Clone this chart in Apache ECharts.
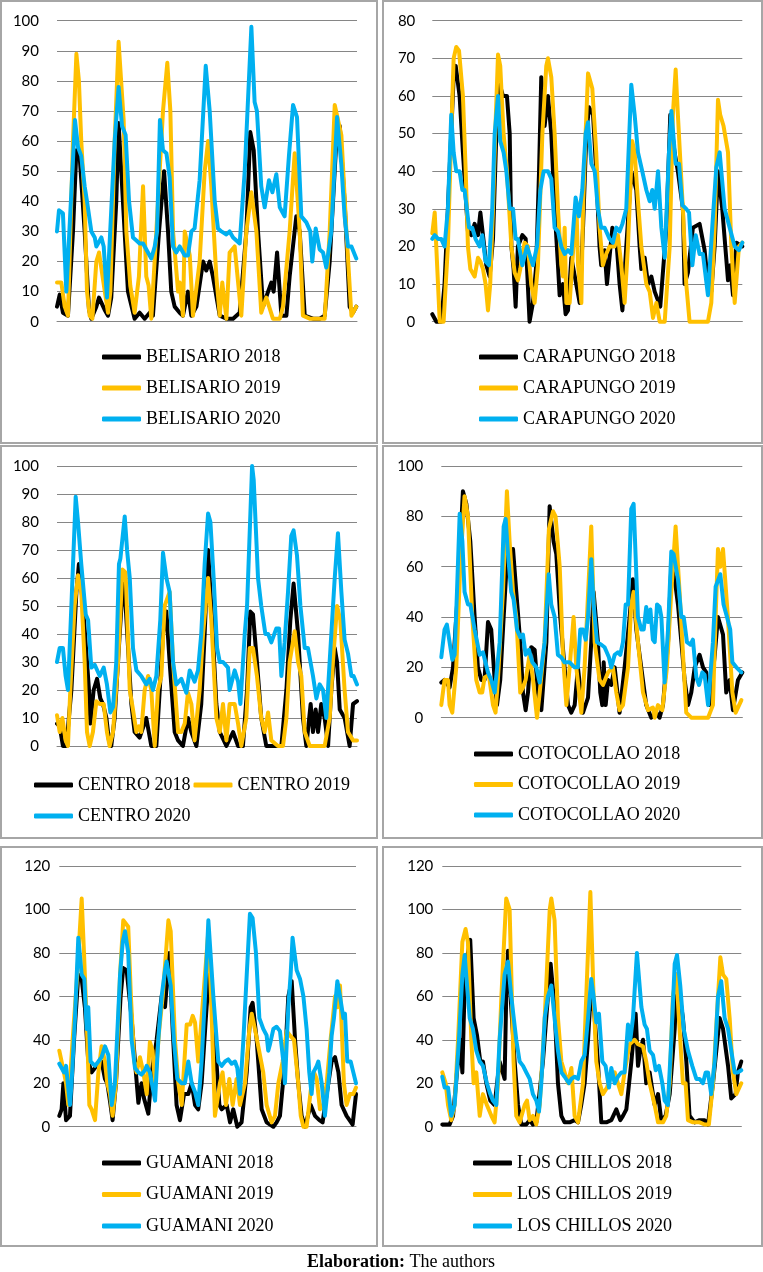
<!DOCTYPE html>
<html><head><meta charset="utf-8">
<script src="https://cdn.jsdelivr.net/npm/echarts@6/dist/echarts.min.js"></script>
<style>html,body{margin:0;padding:0;background:#fff}#c{width:763px;height:1272px}</style>
</head><body><div id="c"></div><script>
// ---- data (x = hour of the week, y = concentration) ----
const stations = ['BELISARIO','CARAPUNGO','CENTRO','COTOCOLLAO','GUAMANI','LOS CHILLOS'];
const years = ['2018','2019','2020'];
const yMax = [100, 80, 100, 100, 120, 120];
const yStep = [10, 10, 10, 20, 20, 20];

const belisario2018 = [[0,5],[1.5,9],[3.3,3],[6.1,2],[8.9,30],[10.8,57],[12.6,55],[15.4,30],[17.8,4],[19.1,1],[21.9,5],[23.4,8],[26.5,4],[28.4,2],[30.2,8],[33,40],[34.3,66],[36.7,40],[39.5,10],[43.2,1],[46,3],[48.8,1],[51.6,3],[53.4,2],[56.8,30],[59.6,50],[61.8,30],[63.6,10],[65.5,5],[68.3,3],[70.1,2],[72.9,10],[74.8,2],[77.6,5],[81.3,20],[83.1,17],[85,20],[86.8,15],[90.6,2],[94.3,1],[98,1],[101.7,3],[105.4,30],[107.6,63],[109.5,57],[111.9,30],[114.7,5],[117.5,10],[119.3,13],[120.6,10],[122.5,23],[124.9,2],[127.7,2],[129.5,15],[133.2,35],[135.1,30],[137.9,2],[142.5,1],[146.2,1],[149,2],[151.8,20],[155.5,60],[157.4,65],[160.1,40],[162.9,5],[164.8,3],[166.6,5]];
const belisario2019 = [[0,13],[2.4,13],[4.3,5],[6.1,2],[8.9,60],[10.8,89],[12.2,80],[13.5,60],[15.4,40],[16.7,10],[18.2,2],[19.7,1],[21.9,20],[23.4,23],[25.6,14],[28.4,3],[29.7,10],[32.1,60],[34.3,93],[37.1,67],[38.6,30],[40.8,12],[43.2,3],[45.6,15],[47.9,45],[49.7,15],[51,12],[52.5,1],[55.3,30],[59,70],[61.4,86],[63.1,70],[64.6,30],[67.4,10],[68.3,13],[70.1,2],[71.1,30],[73.9,22],[75.7,2],[79.4,20],[82.2,50],[84.1,60],[85.9,45],[88.7,15],[90.6,2],[92,13],[94.3,1],[96.1,23],[98.9,25],[101.3,10],[102.6,2],[105.4,30],[108.2,43],[111,30],[113.7,3],[116.5,8],[120.2,1],[124,1],[125.8,5],[129.5,30],[132.3,56],[135.1,30],[136.9,2],[140.7,1],[146.2,1],[149,1],[151.8,30],[154.6,72],[158.3,62],[161.1,30],[163.9,2],[166.6,5]];
const belisario2020 = [[0,30],[1.1,37],[3.3,36],[5.2,10],[10,67],[11.7,58],[13.5,55],[15.4,45],[16.7,40],[19.1,30],[21,28],[21.9,25],[23.8,27],[24.7,28],[26,25],[27.8,8],[28.9,8],[32.1,60],[34.3,78],[36.2,65],[38.2,62],[40.1,40],[42.3,28],[44.2,27],[46,26],[47.9,26],[52.5,21],[54.4,25],[55.7,30],[57.3,67],[59,57],[60.9,56],[62.7,48],[64.6,25],[66.4,23],[68.3,25],[71.1,22],[72.9,22],[74.8,30],[76.6,31],[79.4,47],[82.8,85],[85,70],[87.8,40],[89.6,31],[91.5,30],[94.3,29],[96.1,30],[98,28],[101.7,26],[104.5,50],[108.2,98],[110,73],[111.3,70],[113.7,45],[115.6,38],[118,47],[119.9,43],[122.1,49],[124,38],[126.7,35],[129.1,55],[131.4,72],[133.6,68],[136,35],[138.8,33],[141,30],[142.1,20],[144,31],[146.2,24],[148.1,23],[149.9,18],[152.7,30],[155.9,68],[158.3,52],[160.1,35],[162,25],[163.9,25],[166.6,21]];

const carapungo2018 = [[0,2],[2.2,0],[4.8,0],[6.6,10],[9.3,40],[11.5,65],[12.6,68],[14.7,60],[16.5,45],[19.2,24],[21,23],[22.8,26],[24.6,23],[25.9,29],[27.3,23],[29.1,15],[30.9,12],[32.7,22],[34.5,50],[36.3,63],[38.1,60],[40.2,60],[41.7,50],[42.6,20],[43.8,14],[44.9,4],[46.1,20],[48.5,23],[50.3,22],[52.4,0],[54.2,5],[56,15],[57.5,40],[58.7,65],[60.5,52],[62.3,60],[64.1,50],[65.9,30],[67.7,15],[68.6,7],[70.4,10],[71.8,2],[73.1,3],[74.9,17],[79.4,5],[81.2,25],[83,50],[84.4,57],[86.6,55],[88.3,40],[90.1,20],[91,15],[92.8,19],[94.1,10],[97,25],[99.1,22],[100.9,10],[102.4,3],[104.5,20],[107.2,40],[109.9,35],[111.7,20],[112.6,14],[114.4,17],[116.2,10],[118,12],[119.8,8],[122.8,4],[126.1,25],[128.2,55],[130.5,45],[132.3,40],[135,30],[135.9,10],[137.7,13],[140.4,25],[144,26],[146.7,19],[148.5,10],[150.3,8],[152.1,20],[153.9,40],[156.2,30],[159.3,11],[160.5,15],[162,7],[163.8,21],[167,20]];
const carapungo2019 = [[0,23.5],[1.3,29],[4,0],[6.1,0],[8.4,20],[10.2,50],[11.5,70],[12.9,73],[14.4,72],[16.5,60],[18,40],[19.2,20],[20.5,14],[21.5,14],[22.8,12],[24.6,17],[25.9,16],[27.3,14],[28.7,10],[30,3],[31.2,10],[32.7,30],[33.9,50],[35.4,71],[36.6,68],[38.4,50],[40.2,40],[42.6,20],[44.4,13],[46.1,11],[47.4,14],[49.7,21],[51.5,20],[53.3,10],[55.1,5],[56.9,15],[59.3,50],[61.4,68],[62.3,70],[64.1,65],[65.9,50],[67.7,30],[69.5,15],[70.4,12],[71.3,25],[72.2,5],[74,5],[77.6,32],[78.5,15],[80.3,5],[81.2,30],[82.6,50],[83.9,66],[86.2,62],[88.3,45],[90.1,25],[91.9,15],[93.7,18],[95.5,20],[98.2,20],[100,23],[101.8,15],[103.6,5],[105.4,20],[107.7,48],[109,45],[110.8,32],[112.6,20],[115.3,10],[117.1,8],[118.9,1],[120.7,5],[122.5,0],[125.2,0],[127.9,20],[129.6,55],[131.1,67],[132.3,55],[135,30],[136.8,10],[138.6,0],[142.2,0],[145.8,0],[148.5,0],[150.3,5],[152.1,25],[153.9,59],[155.1,55],[156.9,52],[159.3,45],[161.1,20],[162.9,5],[165.2,20],[167,21]];
const carapungo2020 = [[0,22],[1.3,23],[3.1,22],[4.8,22],[6.6,20],[8.4,30],[10.2,55],[11.5,45],[12.9,40],[14.7,40],[16.2,35],[17.4,35],[19.8,25],[21.5,25],[23.3,22],[25.5,20],[26.9,23],[28.7,16],[30.5,15],[32.3,30],[33.6,50],[35.4,60],[36.6,48],[38.4,45],[39.9,40],[41.7,30],[43.5,30],[44.9,22],[46.1,22],[48.5,15],[51,20],[54.2,15],[56.4,20],[58.2,35],[60,40],[62.3,40],[64.1,38],[65.9,25],[67.7,24],[69.5,20],[71.3,18],[73.1,19],[74.9,18],[77.2,33],[79,28],[80.8,35],[82.6,50],[83.9,53],[85.7,42],[87.5,40],[89.2,30],[91,25],[92.8,25],[95.5,22],[97.3,21],[99.1,25],[100.9,24],[102.4,26],[104.5,30],[107.2,63],[109,55],[110.8,45],[113.1,40],[115.3,35],[117.1,32],[118.5,35],[119.8,30],[121.6,40],[123.4,25],[125.2,17],[127.5,45],[128.8,56],[131.1,42],[132.9,42],[134.7,31],[136.8,30],[138.3,29],[140.1,15],[141.9,23],[144,18],[145.8,18],[148.5,7],[150.8,25],[153,41],[154.8,45],[157.5,30],[160.2,25],[162.9,20],[165.2,19],[167,21]];

const centro2018 = [[0,8],[1.5,7],[3.3,0],[5.2,0],[8,20],[10.8,55],[12.2,65],[14.5,50],[17.8,20],[18.6,8],[20.4,20],[22.3,24],[24.1,17],[25.6,15],[27.5,10],[28.9,2],[30.2,0],[32.1,10],[34.9,40],[36.7,58],[38.2,50],[41.4,15],[43.2,5],[46,3],[49.7,10],[52.5,0],[55.3,0],[57.2,20],[59,40],[60.9,48],[62.7,30],[65.5,5],[67.4,2],[70.1,0],[72.9,10],[74.8,5],[77.6,0],[80.3,15],[82.2,40],[84.1,70],[85.9,50],[88.7,15],[90.6,5],[94.3,0],[98,5],[100.8,0],[103.5,0],[105.8,20],[107.6,48],[109.1,47],[111.3,30],[113.7,10],[116.5,0],[122.1,0],[124.9,0],[127.7,20],[129.9,45],[131.7,58],[134.2,40],[136.9,10],[138.8,0],[141.2,15],[142.5,5],[144,13],[145.3,5],[147.1,15],[149,10],[150.9,0],[152.7,20],[154.6,35],[155.9,30],[157.4,13],[160.1,10],[162.9,0],[164.8,15],[167,16]];
const centro2019 = [[0,11],[1.5,5],[3,10],[4.8,2],[6.1,0],[7.4,20],[9.8,50],[11.7,61],[13.5,55],[15.4,30],[16.7,5],[18.2,0],[20,5],[21.9,16],[23.8,15],[26,15],[27.8,5],[29.3,0],[31.2,5],[34,30],[36.4,63],[38.2,62],[40.5,20],[42.3,13],[44.2,5],[45.6,7],[46.9,5],[48.8,20],[50.7,25],[52.5,20],[54.4,0],[56.2,20],[58.1,25],[59.9,50],[62.7,55],[64.6,30],[67.4,5],[69.2,5],[71.1,8],[72.9,19],[74.8,15],[76.6,2],[79.4,20],[81.3,40],[84.1,60],[85.9,45],[88.7,10],[90.6,5],[92.4,15],[94.3,2],[96.1,15],[98.9,15],[100.8,8],[102.6,0],[105.4,10],[107.3,35],[109.1,35],[111.3,25],[113.7,10],[115.6,5],[117.5,12],[119.3,2],[123,0],[125.8,0],[127.7,10],[129.5,30],[132.3,41],[134.2,30],[136,25],[137.9,5],[140.7,0],[146.2,0],[149,0],[151.8,10],[153.6,30],[155.9,50],[157.7,45],[160.1,20],[162,5],[164.8,2],[167,2]];
const centro2020 = [[0,30],[1.5,35],[3.3,35],[4.8,25],[6.1,20],[8,50],[10.4,89],[11.7,80],[13.5,65],[16,47],[17.3,45],[19.1,28],[21,29],[23.8,25],[26,28],[27.8,22],[29.7,12],[31.2,14],[33,30],[34.5,65],[35.3,67],[37.7,82],[39,70],[40.5,60],[42.3,35],[44.2,27],[46.9,25],[49.7,22],[51.6,24],[53.4,20],[55.3,25],[57.5,45],[59,69],[60.9,60],[62.7,55],[64.6,30],[66.4,22],[69.2,24],[72,19],[73.9,27],[76.6,23],[78.5,27],[80.3,40],[82.2,65],[84.1,83],[85.4,80],[87.2,60],[89.1,35],[90.6,30],[92.4,30],[95.2,28],[96.1,20],[98.9,27],[100.8,23],[102.1,15],[104.5,40],[105.8,50],[108.6,100],[109.5,95],[111.9,60],[113.7,50],[116,40],[117.5,40],[119.3,37],[122.1,42],[123.6,42],[124.9,25],[126.7,37],[128.6,55],[130.4,75],[131.7,77],[133.6,68],[135.5,50],[137.9,35],[139.7,35],[142.5,25],[144.4,17],[146.2,22],[148.1,20],[149.9,10],[152.7,40],[154.6,60],[156.4,76],[158.3,55],[160.1,38],[162,33],[163.9,25],[165.1,25],[167,22]];

const cotocollao2018 = [[0,14],[1.8,15],[4.6,12],[6.5,20],[9.2,50],[12,90],[13.9,85],[16.1,70],[18.5,40],[20.3,20],[22.2,15],[24,15],[25.9,38],[27.7,35],[29.6,15],[30.9,5],[32.7,15],[34.6,40],[37,70],[38.3,60],[39.8,67],[41.6,50],[43.8,30],[45.3,10],[46.8,3],[48.1,10],[49.9,28],[51.8,27],[53.6,10],[55.5,3],[58.3,30],[60.1,84],[62.3,70],[63.8,65],[66,40],[68.4,20],[70.3,5],[72.1,2],[74,5],[75.8,20],[78.6,2],[81.4,8],[83.2,30],[84.5,50],[86.9,30],[88.2,10],[89.3,5],[90.1,22],[91.2,5],[92.5,15],[94.3,13],[96.2,20],[98.9,2],[101.7,20],[104.5,40],[106.3,55],[108.2,35],[110,25],[113.7,5],[116.5,0],[119.3,2],[121.1,0],[123,5],[125.8,30],[127.6,60],[129.5,55],[131.3,45],[133.2,30],[135,15],[136.9,5],[138.7,10],[140.6,20],[143.3,25],[145.2,20],[147,18],[148.9,5],[151.7,25],[153.5,40],[156.3,33],[158.1,10],[160,15],[161.8,3],[164.6,15],[167,18]];
const cotocollao2019 = [[0,5],[1.8,15],[3.7,15],[4.6,5],[6.1,2],[8.3,20],[10.5,60],[12.9,88],[14.8,80],[17.2,40],[19.4,15],[21.3,10],[22.7,10],[24,16],[26.4,17],[28.7,5],[30.1,2],[31.4,15],[34.2,50],[36.4,90],[37.9,70],[39.8,50],[41.6,40],[43.8,10],[45.3,12],[46.8,15],[49,25],[50.9,15],[53.1,0],[54.6,10],[57.3,30],[59.7,75],[62,82],[63.4,80],[65.7,60],[67.5,25],[69.4,5],[71.2,20],[73.4,40],[74.9,20],[77.7,2],[79.5,20],[83.2,76],[85.1,30],[87.8,15],[89.7,13],[92.5,18],[95.2,20],[97.1,10],[98.9,3],[100.8,5],[103.6,20],[105.4,45],[106.7,50],[109.1,30],[111.9,10],[114.7,3],[117.4,4],[118.4,0],[120.2,5],[122.6,3],[125.2,20],[127.6,50],[130,76],[132.2,50],[134.5,20],[135.9,2],[138.7,0],[143.3,0],[148,0],[150.7,5],[152.2,40],[153.5,67],[154.8,60],[156.3,67],[159,40],[161.5,10],[163.3,2],[166.5,7]];
const cotocollao2020 = [[0,24],[1.8,35],[3.1,37],[4.6,30],[6.1,23],[7.4,25],[8.7,50],[10.2,81],[11.7,70],[12.9,50],[14.8,45],[16.1,45],[18.5,35],[21.3,25],[23.1,26],[25.9,18],[27.7,15],[29.6,10],[32.4,30],[34.6,76],[35.7,79],[37,65],[38.8,50],[40.1,47],[42,35],[43.8,32],[45.3,33],[46.8,25],[48.6,27],[50.5,22],[52.7,20],[54.6,14],[57.3,30],[59.6,57],[61,45],[62.9,40],[64.7,25],[66.6,24],[68.4,22],[71.2,22],[74,20],[75.8,20],[77.1,35],[78.6,35],[80.1,31],[81.4,40],[83.2,63],[84.5,45],[86.4,30],[88.8,29],[90.6,28],[93,24],[94.3,20],[96.2,25],[98,26],[99.3,25],[100.8,30],[102.3,45],[103.6,45],[105.4,83],[106.7,85],[109.1,40],[111,35],[112.3,35],[113.7,44],[114.7,38],[116,43],[117.4,31],[118.4,30],[119.7,45],[121.1,44],[122.1,40],[123.9,14],[125.8,35],[127.6,66],[128.9,65],[131.3,55],[133.2,40],[134.5,40],[136.3,30],[138.2,29],[139.6,31],[141.5,16],[143,13],[144.8,18],[146.1,17],[148,5],[150.7,30],[152.2,52],[154.8,57],[156.6,45],[158.5,40],[160.3,35],[161.5,22],[163.7,20],[166.5,18]];

const guamani2018 = [[0,5],[1.3,8],[2.3,20],[3.8,3],[6,5],[8.3,40],[10.7,70],[12.6,68],[14.4,55],[16.3,30],[18.2,25],[21,28],[23.8,30],[25.7,22],[27,20],[28.5,12],[30,3],[31.9,20],[34.5,60],[36,73],[37.9,72],[40.7,50],[42.6,30],[44.5,11],[46.3,20],[47.7,13],[50.1,6],[52,25],[54.8,40],[57.6,60],[59.5,55],[61.9,80],[63.8,45],[66,10],[67.9,3],[70.2,15],[72.6,15],[74.5,20],[76.4,10],[78.2,8],[80.1,20],[82.9,55],[84.4,70],[87.6,40],[90.1,10],[91.4,8],[94.2,10],[96.1,2],[97.9,8],[100.2,0],[102.6,2],[105.5,25],[107.7,55],[108.8,57],[111.1,40],[113.9,8],[116.7,2],[120.5,0],[122.3,2],[124.2,5],[127,30],[128.9,60],[130.8,67],[132.7,40],[134.5,20],[136.4,5],[138.3,0],[141.5,10],[143.9,5],[146.4,3],[148.2,2],[150.5,15],[153.3,30],[155.2,32],[157.1,25],[158.9,10],[161.7,5],[165.1,1],[167,15]];
const guamani2019 = [[0,35],[2.6,25],[3.8,20],[5.1,10],[7.5,40],[10.1,70],[12.6,105],[13.9,80],[15.8,40],[16.9,10],[18.2,8],[20.1,3],[22,25],[23.8,37],[25.7,30],[27,20],[28.5,15],[30,5],[31.9,20],[34.2,70],[36,95],[38.8,92],[40.3,60],[42.2,30],[43.5,25],[45.4,32],[47.3,25],[49.2,15],[51,39],[52.5,35],[53.9,20],[56.3,45],[58.2,60],[61.4,95],[62.7,90],[65.1,40],[67,20],[68.9,10],[71.7,47],[73.6,47],[75.1,51],[76.4,48],[78.2,30],[80.1,50],[82,70],[83.9,90],[85.4,60],[87.6,5],[90.4,20],[91.9,25],[93.8,10],[95.7,22],[97.6,10],[99.8,22],[101.7,10],[104.5,20],[107,45],[108.3,52],[110.1,45],[112,37],[114.8,25],[116.7,10],[119.5,2],[121.4,5],[123.3,20],[125.7,30],[128,44],[129.8,42],[132.1,40],[134.5,20],[135.9,5],[137.4,0],[139.2,0],[142,20],[143.4,25],[144.9,22],[146.7,8],[148.6,10],[150.5,20],[152.7,40],[155.2,60],[156.5,55],[158,65],[160.2,20],[161.7,10],[163.6,15],[165.5,15],[167,18]];
const guamani2020 = [[0,29],[1.3,27],[2.6,25],[3.8,28],[6,10],[6.9,20],[8.8,50],[10.7,87],[12.6,70],[14.1,68],[15.4,45],[16.3,55],[17.6,30],[20.1,28],[22,30],[23.8,32],[25.7,37],[27.6,33],[29.5,10],[31.3,20],[34.2,70],[35.7,85],[37,90],[38.8,80],[40.7,40],[42.6,27],[44.5,25],[46.3,24],[48.2,26],[49.2,28],[51,25],[53.9,12],[55.7,40],[57.6,60],[59.5,72],[60.4,76],[62.7,65],[64.5,40],[66.4,22],[68.9,20],[70.7,20],[72.6,30],[74.5,20],[76.4,16],[78.2,10],[80.1,30],[82,60],[83.9,95],[86.7,60],[89.5,30],[91.4,28],[93.3,30],[95.1,31],[97,29],[98.9,30],[100.2,27],[101.7,15],[103.6,40],[105.5,70],[107.3,98],[108.8,96],[110.7,80],[112.6,50],[114.8,45],[116.7,42],[117.6,35],[118.6,38],[120.5,45],[122.3,46],[124.2,44],[126.1,30],[127,20],[128.9,55],[130.2,70],[131.3,87],[133.6,72],[135.5,68],[137.4,60],[139.2,45],[140.7,25],[142,15],[143,25],[143.9,25],[144.9,28],[145.8,30],[147.7,20],[149.5,5],[152,25],[153.3,42],[154.6,50],[156.5,67],[158,60],[159.9,50],[160.8,52],[162.1,30],[164,30],[165.5,25],[167,20]];

const loschillos2018 = [[0,1],[4.1,1],[6,5],[8.2,25],[10.1,40],[11.2,25],[12.5,65],[14.3,80],[15.6,86],[17.5,50],[19.4,42],[21.2,30],[22.7,30],[24.6,20],[26.8,12],[29.2,10],[32,30],[34.8,22],[35.7,60],[36.7,81],[38.5,55],[40.4,30],[42.3,10],[44.1,1],[46.9,1],[48.8,3],[50.6,1],[52.5,2],[56.2,30],[59,60],[60.5,75],[62.7,55],[64.6,20],[66.5,5],[68.3,2],[71.1,2],[73.9,3],[75.8,2],[77.6,10],[79.5,20],[81.4,40],[83.2,65],[85.1,50],[86.9,30],[88.8,2],[91.6,2],[94.4,3],[97.2,8],[99.4,3],[100.9,5],[102.8,8],[105.6,30],[108,52],[109.3,28],[110.6,35],[112.1,40],[113.9,20],[115.8,25],[118.6,10],[120.5,15],[122.3,3],[124.7,5],[127,15],[129.8,45],[131.1,70],[132.6,60],[134.4,50],[136.3,30],[138.1,5],[140.9,2],[143.7,3],[146.5,3],[148.4,1],[151.2,20],[154.9,50],[156.8,45],[159.6,28],[161.4,13],[163.8,15],[165.1,25],[167,30]];
const loschillos2019 = [[0,25],[1.9,20],[3.2,10],[5,3],[6.9,10],[8.8,40],[11.2,85],[13,91],[14.3,85],[16.2,40],[17.5,20],[19,25],[20.9,5],[22.7,15],[24.9,10],[27.4,5],[29.2,2],[31.1,20],[33,60],[35.7,105],[37.6,100],[39.8,30],[41.3,5],[43.2,2],[46,10],[47.3,12],[48.8,3],[50.6,5],[52.5,1],[54.4,10],[57.2,50],[60,100],[60.9,105],[62.7,95],[64.6,50],[66.5,30],[68.3,25],[70.2,20],[72.1,27],[73.9,5],[75.8,2],[78.6,20],[80.4,60],[82.7,108],[84.5,60],[86,30],[87.9,20],[89.7,15],[92,18],[93.5,22],[96.3,25],[98.1,20],[100,15],[101.8,25],[104.6,38],[107.4,40],[109.3,38],[112.1,37],[113.9,30],[115.8,20],[118.6,10],[120.5,2],[123.3,2],[125.1,5],[127,20],[128.8,60],[130.7,70],[132.9,40],[134.4,20],[135.9,20],[137.2,3],[140,2],[143.7,2],[146.5,1],[148.9,1],[151.2,20],[154,60],[155.3,78],[156.8,70],[158.6,68],[160.5,50],[162.3,25],[164.2,15],[167,20]];
const loschillos2020 = [[0,23],[1.3,18],[3.2,18],[5,5],[6.9,10],[9.3,40],[11.2,70],[12.5,79],[13.8,65],[15.3,50],[17.1,45],[19,35],[20.9,30],[22.7,28],[24.9,20],[26.8,15],[28.3,12],[30.2,10],[32,40],[34.8,70],[36.7,76],[38.5,60],[41.3,40],[43.2,30],[45.1,28],[46.9,25],[48.8,22],[50.6,15],[52.5,12],[54,7],[55.3,20],[57.2,50],[59,60],[60.9,65],[62.7,50],[64.6,35],[66.5,25],[68.3,23],[70.7,20],[72.1,22],[73.9,23],[75.8,22],[77.6,30],[79.5,33],[81.4,50],[83.2,68],[84.5,60],[86,48],[87.5,52],[89.4,30],[91.2,28],[93.1,18],[94.4,27],[96.3,20],[98.1,23],[100,25],[101.8,25],[103.7,47],[105,40],[106.5,50],[108.7,80],[111.2,55],[113,47],[114.3,45],[115.8,35],[117.7,33],[119.2,26],[121,28],[122.9,20],[124.2,12],[126,10],[127.9,40],[129.8,75],[131.1,79],[132.9,65],[134.8,45],[137.2,35],[139.6,28],[141.9,22],[143.7,22],[145.6,20],[147.1,25],[148.4,25],[150.2,15],[152.1,30],[154,60],[155.8,67],[157.7,50],[159.6,45],[161.4,35],[163.3,25],[165.1,25],[167,26]];

const panelData = [
  [belisario2018, belisario2019, belisario2020],
  [carapungo2018, carapungo2019, carapungo2020],
  [centro2018, centro2019, centro2020],
  [cotocollao2018, cotocollao2019, cotocollao2020],
  [guamani2018, guamani2019, guamani2020],
  [loschillos2018, loschillos2019, loschillos2020]
];

// ---- layout & style ----
const colors = ['#000000', '#FFC000', '#00B0F0'];
const layout = [
  {grid:{left:57,top:20.7,width:300,height:301}, margin:18, lg:{left:102,top:347,orient:'vertical',itemGap:11,lh:20}},
  {grid:{left:432.3,top:20.7,width:310,height:301}, margin:17, lg:{left:479,top:347,orient:'vertical',itemGap:11,lh:20}},
  {grid:{left:57,top:466,width:300,height:280}, margin:18, lg:{left:34,top:771,orient:'horizontal',itemGap:3,lh:28,width:330}},
  {grid:{left:441.3,top:466,width:301,height:251.7}, margin:18, lg:{left:474,top:744,orient:'vertical',itemGap:10.5,lh:20}},
  {grid:{left:59.3,top:866,width:296.7,height:260.7}, margin:9, lg:{left:102,top:1153,orient:'vertical',itemGap:11.5,lh:20}},
  {grid:{left:442.3,top:866,width:299,height:260.7}, margin:9, lg:{left:473,top:1153,orient:'vertical',itemGap:11.5,lh:20}}
];
const boxes = [
  [1,1,376,442],[383,1,379,442],
  [1,446,376,392],[383,446,379,392],
  [1,847,376,399],[383,847,379,399]
];

const option = {
  animation: false,
  backgroundColor: '#ffffff',
  grid: layout.map(l => Object.assign({containLabel:false}, l.grid)),
  xAxis: layout.map((l, i) => ({
    type:'value', gridIndex:i, min:0, max:167,
    axisLine:{show:true, onZero:true, lineStyle:{color:'#868686', width:1}},
    axisTick:{show:false}, axisLabel:{show:false}, splitLine:{show:false}
  })),
  yAxis: layout.map((l, i) => ({
    type:'value', gridIndex:i, min:0, max:yMax[i], interval:yStep[i],
    axisLine:{show:false}, axisTick:{show:false},
    axisLabel:{margin:l.margin, color:'#000', fontFamily:'Lato', fontSize:15},
    splitLine:{lineStyle:{color:'#868686', width:1}}
  })),
  legend: layout.map((l, i) => ({
    data: years.map(y => stations[i] + ' ' + y),
    left: l.lg.left, top: l.lg.top, orient: l.lg.orient, itemGap: l.lg.itemGap,
    width: l.lg.width, padding: 0,
    icon: 'roundRect', itemWidth: 39, itemHeight: 5, selectedMode: false,
    textStyle: {fontFamily:'Liberation Serif', fontSize:18, color:'#000', lineHeight:l.lg.lh}
  })),
  series: [],
  graphic: []
};

panelData.forEach((set, i) => {
  set.forEach((arr, k) => {
    option.series.push({
      type:'line', name: stations[i] + ' ' + years[k],
      xAxisIndex:i, yAxisIndex:i, data: arr,
      symbol:'none', clip:false, z: 2 + k,
      lineStyle:{color:colors[k], width:4, join:'round', cap:'round'},
      itemStyle:{color:colors[k]}
    });
  });
});

boxes.forEach(b => option.graphic.push({
  type:'rect', shape:{x:b[0], y:b[1], width:b[2], height:b[3]},
  style:{fill:'none', stroke:'#a6a6a6', lineWidth:2}, silent:true, z:0
}));
option.graphic.push({
  type:'text', x:401, y:1262,
  style:{text:'{b|Elaboration:} The authors', align:'center', verticalAlign:'middle',
    fontFamily:'Liberation Serif', fontSize:18, fill:'#000',
    rich:{b:{fontWeight:'bold', fontFamily:'Liberation Serif', fontSize:18}}}
});

const chart = echarts.init(document.getElementById('c'), null, {renderer:'canvas', width:763, height:1272});
chart.setOption(option);
</script></body></html>
